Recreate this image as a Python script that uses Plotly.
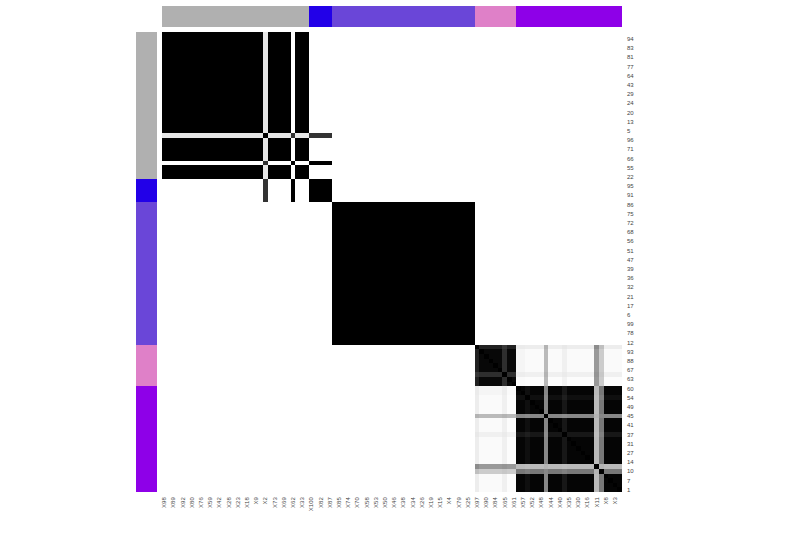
import plotly.graph_objects as go

# ---- tick labels ----
col_tick_labels = ["X98", "X89", "X92", "X80", "X76", "X59", "X42", "X28", "X23", "X18",
                   "X9", "X2", "X73", "X69", "X62", "X33", "X100", "X82", "X87", "X85",
                   "X74", "X70", "X58", "X53", "X50", "X46", "X38", "X34", "X26", "X19",
                   "X15", "X4", "X79", "X25", "X97", "X90", "X84", "X65", "X61", "X57",
                   "X52", "X48", "X44", "X40", "X35", "X30", "X16", "X11", "X8", "X3"]
row_tick_labels = ["94", "83", "81", "77", "64", "43", "29", "24", "20", "13",
                   "5", "96", "71", "66", "55", "22", "95", "91", "86", "75",
                   "72", "68", "56", "51", "47", "39", "36", "32", "21", "17",
                   "6", "99", "78", "12", "93", "88", "67", "63", "60", "54",
                   "49", "45", "41", "37", "31", "27", "14", "10", "7", "1"]

# ---- cluster annotation ----
group_names = ["g1", "g2", "g3", "g4", "g5"]
group_colors = ["#b0b0b0", "#2200e8", "#6a46d8", "#df80c8", "#8e00e8"]
group_sizes = [32, 5, 31, 9, 23]

# ---- runs of items with identical behaviour (in display order) ----
segment_sizes = [22, 1, 5, 1, 3,      # grey group
                 5,                   # blue group
                 31,                  # slate group
                 1, 5, 1, 2,          # orchid group
                 2, 1, 3, 1, 3, 1, 6, 1, 1, 4]   # purple group

# consensus values between segments (upper triangle, others 0)
segment_values = {
    (0, 0): 1.0, (0, 1): 0.10, (0, 2): 1.0, (0, 4): 1.0,
    (1, 1): 1.0, (1, 2): 0.10, (1, 3): 0.80, (1, 4): 0.10, (1, 5): 0.80,
    (2, 2): 1.0, (2, 4): 1.0,
    (3, 3): 1.0, (3, 5): 1.0,
    (4, 4): 1.0,
    (5, 5): 1.0,
    (6, 6): 1.0,
    (7, 7): 1.0, (7, 8): 0.87, (7, 9): 0.78, (7, 10): 0.87,
    (8, 8): 0.97, (8, 9): 0.82, (8, 10): 0.97,
    (9, 9): 1.0, (9, 10): 0.82,
    (10, 10): 0.97,
}
pink_vs_purple = {
    7:  [0.08, 0.07, 0.07, 0.30, 0.07, 0.09, 0.07, 0.45, 0.25, 0.07],
    8:  [0.04, 0.02, 0.02, 0.27, 0.02, 0.06, 0.02, 0.40, 0.20, 0.02],
    9:  [0.07, 0.06, 0.06, 0.30, 0.06, 0.08, 0.06, 0.42, 0.22, 0.06],
    10: [0.02, 0.01, 0.01, 0.27, 0.01, 0.05, 0.01, 0.40, 0.20, 0.01],
}
purple_within = [
    [0.98, 0.94, 0.98, 0.47, 0.98, 0.91, 0.98, 0.27, 0.53, 0.98],
    [0.94, 1.00, 0.94, 0.45, 0.94, 0.88, 0.94, 0.26, 0.50, 0.94],
    [0.98, 0.94, 0.98, 0.47, 0.98, 0.91, 0.98, 0.27, 0.53, 0.98],
    [0.47, 0.45, 0.47, 1.00, 0.47, 0.45, 0.47, 0.30, 0.47, 0.47],
    [0.98, 0.94, 0.98, 0.47, 0.98, 0.91, 0.98, 0.27, 0.53, 0.98],
    [0.91, 0.88, 0.91, 0.45, 0.91, 1.00, 0.91, 0.26, 0.50, 0.91],
    [0.98, 0.94, 0.98, 0.47, 0.98, 0.91, 0.98, 0.27, 0.53, 0.98],
    [0.27, 0.26, 0.27, 0.30, 0.27, 0.26, 0.27, 1.00, 0.30, 0.27],
    [0.53, 0.50, 0.53, 0.47, 0.53, 0.50, 0.53, 0.30, 1.00, 0.53],
    [0.98, 0.94, 0.98, 0.47, 0.98, 0.91, 0.98, 0.27, 0.53, 0.98],
]

# ---- assemble the table ----
nseg = len(segment_sizes)
table = [[0.0] * nseg for _ in range(nseg)]
for (a, b), v in segment_values.items():
    table[a][b] = v
    table[b][a] = v
for a, vals in pink_vs_purple.items():
    for k, v in enumerate(vals):
        table[a][11 + k] = v
        table[11 + k][a] = v
for i, vals in enumerate(purple_within):
    for k, v in enumerate(vals):
        table[11 + i][11 + k] = v

seg_of = []
for s, n in enumerate(segment_sizes):
    seg_of += [s] * n
group_of = []
for g, n in enumerate(group_sizes):
    group_of += [g] * n

order = []
for c, r in zip(col_tick_labels, row_tick_labels):
    order.append(c[1:])
    order.append(r)
N = len(order)
xcats = ["X" + n for n in order]
ycats = list(order)

z = [[(1.0 if i == j else table[seg_of[i]][seg_of[j]]) for j in range(N)] for i in range(N)]

def step_scale(colors):
    k = len(colors)
    sc = []
    for i, c in enumerate(colors):
        lo = 0 if i == 0 else (i - 0.5) / (k - 1)
        hi = 1 if i == k - 1 else (i + 0.5) / (k - 1)
        sc += [[lo, c], [hi, c]]
    return sc

gscale = step_scale(group_colors)

fig = go.Figure()
fig.add_trace(go.Heatmap(z=z, x=xcats, y=ycats, colorscale=[[0, "#ffffff"], [1, "#000000"]],
                         zmin=0, zmax=1, showscale=False, xaxis="x", yaxis="y",
                         hoverongaps=False))
fig.add_trace(go.Heatmap(z=[group_of], x=xcats, y=["group"], colorscale=gscale,
                         zmin=0, zmax=len(group_colors) - 1, showscale=False,
                         xaxis="x", yaxis="y2"))
fig.add_trace(go.Heatmap(z=[[g] for g in group_of], x=["group"], y=ycats, colorscale=gscale,
                         zmin=0, zmax=len(group_colors) - 1, showscale=False,
                         xaxis="x2", yaxis="y"))

W, H = 800, 540
tick_font = dict(family="Liberation Sans, Arial, sans-serif", size=6, color="#444444")
fig.update_layout(
    width=W, height=H, margin=dict(l=0, r=0, t=0, b=0),
    paper_bgcolor="white", plot_bgcolor="white",
    xaxis=dict(domain=[162 / W, 622 / W], anchor="y", type="category",
               tickmode="array", tickvals=xcats[0::2], ticktext=col_tick_labels,
               tickangle=-90, tickfont=tick_font, ticks="", showgrid=False,
               zeroline=False, showline=False, fixedrange=True,
               ticklabelstandoff=3),
    yaxis=dict(domain=[1 - 492 / H, 1 - 32 / H], anchor="x", type="category",
               autorange="reversed", side="right",
               tickmode="array", tickvals=ycats[1::2], ticktext=row_tick_labels,
               tickfont=tick_font, ticks="", showgrid=False, zeroline=False,
               showline=False, fixedrange=True, ticklabelstandoff=4),
    yaxis2=dict(domain=[1 - 27 / H, 1 - 6 / H], anchor="x", type="category",
                showticklabels=False, ticks="", showgrid=False, zeroline=False),
    xaxis2=dict(domain=[136 / W, 157 / W], anchor="y", type="category",
                showticklabels=False, ticks="", showgrid=False, zeroline=False),
)
fig.write_html("out.html")
